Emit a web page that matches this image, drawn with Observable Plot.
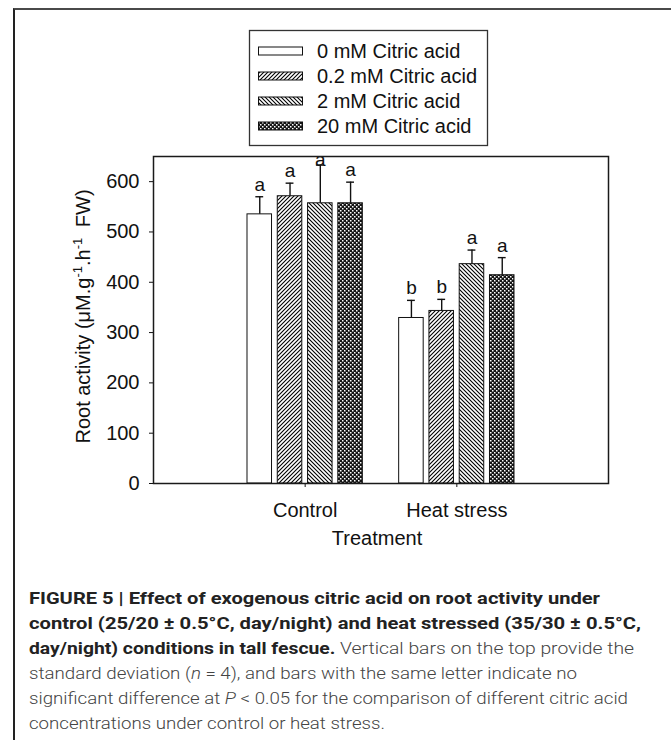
<!DOCTYPE html>
<html>
<head>
<meta charset="utf-8">
<script src="https://cdn.jsdelivr.net/npm/d3@7"></script>
<script src="https://cdn.jsdelivr.net/npm/@observablehq/plot@0.6"></script>
<style>
  html, body { margin: 0; padding: 0; background: #fff; }
  #page { position: relative; width: 671px; height: 740px; overflow: hidden; background: #fff; font-family: "Liberation Sans", Arial, sans-serif; }
  #border { position: absolute; left: 13px; top: 8px; width: 700px; height: 800px; border-top: 2px solid #4a4a4a; border-left: 2px solid #222; }
  #legend { position: absolute; left: 0; top: 0; }
  #chart { position: absolute; left: 0; top: 150px; }
  #caption { position: absolute; left: 29px; top: 586px; font-family: Roboto, "Liberation Sans", sans-serif; font-size: 17px; line-height: 25px; color: #444; }
  #caption .line { white-space: nowrap; transform-origin: 0 50%; width: max-content; }
  #caption b { font-weight: 700; color: #222; }
  #caption .reg { font-weight: 300; }
  #defs { position: absolute; width: 0; height: 0; }
</style>
</head>
<body>
<div id="page">
  <svg id="defs" width="0" height="0"></svg>
  <div id="border"></div>
  <svg id="legend" width="671" height="150"></svg>
  <div id="chart"></div>
  <div id="caption">
    <div class="line"><b>FIGURE 5 | Effect of exogenous citric acid on root activity under</b></div>
    <div class="line"><b>control (25/20 ± 0.5°C, day/night) and heat stressed (35/30 ± 0.5°C,</b></div>
    <div class="line"><b>day/night) conditions in tall fescue.</b><span class="reg"> Vertical bars on the top provide the</span></div>
    <div class="line"><span class="reg">standard deviation (<i>n</i> = 4), and bars with the same letter indicate no</span></div>
    <div class="line"><span class="reg">significant difference at <i>P</i> &lt; 0.05 for the comparison of different citric acid</span></div>
    <div class="line"><span class="reg">concentrations under control or heat stress.</span></div>
  </div>
</div>
<script>
// ---------------- data ----------------
const treatments = ["Control", "Heat stress"];
const concentrations = ["0 mM Citric acid", "0.2 mM Citric acid", "2 mM Citric acid", "20 mM Citric acid"];
const controlMeans = [535, 571, 557, 557];
const controlSD = [35, 26, 76, 42];
const controlLetters = ["a", "a", "a", "a"];
const heatMeans = [329, 343, 436, 414];
const heatSD = [35, 23, 28, 35];
const heatLetters = ["b", "b", "a", "a"];
const yTicks = [0, 100, 200, 300, 400, 500, 600];
const yLabel = ["Root activity (\u03bcM.g", "-1", ".h", "-1", " FW)"];
const xLabel = "Treatment";

// ---------------- patterns ----------------
const fills = ["white", "url(#pat-fwd)", "url(#pat-back)", "url(#pat-check)"];
const defs = d3.select("#defs").append("defs");
function linePattern(id, d) {
  const p = defs.append("pattern").attr("id", id).attr("patternUnits", "userSpaceOnUse")
    .attr("width", 4).attr("height", 4);
  p.append("rect").attr("width", 4).attr("height", 4).attr("fill", "white");
  p.append("path").attr("d", d).attr("stroke", "#000").attr("stroke-width", 1.1).attr("fill", "none");
}
linePattern("pat-fwd", "M-1,1 L1,-1 M0,4 L4,0 M3,5 L5,3");
linePattern("pat-back", "M-1,3 L1,5 M0,0 L4,4 M3,-1 L5,1");
{
  const p = defs.append("pattern").attr("id", "pat-check").attr("patternUnits", "userSpaceOnUse")
    .attr("width", 4).attr("height", 4);
  p.append("rect").attr("width", 4).attr("height", 4).attr("fill", "#151515");
  p.append("rect").attr("x", 0).attr("y", 0).attr("width", 1.5).attr("height", 1.5).attr("fill", "white");
  p.append("rect").attr("x", 2).attr("y", 2).attr("width", 1.5).attr("height", 1.5).attr("fill", "white");
}

// ---------------- rows ----------------
const rows = [];
treatments.forEach((t, ti) => {
  const means = ti === 0 ? controlMeans : heatMeans;
  const sds = ti === 0 ? controlSD : heatSD;
  const letters = ti === 0 ? controlLetters : heatLetters;
  concentrations.forEach((c, ci) => {
    rows.push({treatment: t, group: ti + 1, conc: c, mean: means[ci], sd: sds[ci], letter: letters[ci]});
  });
});

// bars dodged within each treatment group (one group = one unit on x)
const yMax = 650;
const inner = d3.scaleBand().domain(concentrations).range([-0.5, 0.5]).paddingInner(0.19).paddingOuter(0.6);
const bw = inner.bandwidth();
const capHalf = bw * 0.16;
const barLeft = d => d.group + inner(d.conc);
const barCenter = d => d.group + inner(d.conc) + bw / 2;
const errTop = d => d.mean + d.sd;
// keep letters inside the frame (as in the original figure)
const letterY = d => Math.min(errTop(d), yMax - 31);

const chart = Plot.plot({
  width: 671,
  height: 410,
  marginLeft: 153,
  marginRight: 63,
  marginTop: 6,
  marginBottom: 77,
  style: {fontFamily: "'Liberation Sans', Arial, sans-serif", fontSize: "20px", color: "#111", background: "transparent"},
  x: {domain: [0, treatments.length + 1], ticks: treatments.map((t, i) => i + 1), tickFormat: v => treatments[v - 1], tickSize: 4, tickPadding: 15, label: null},
  y: {domain: [0, yMax], ticks: yTicks, tickSize: 4, tickPadding: 10, label: null},
  color: {domain: concentrations, range: fills},
  marks: [
    Plot.rectY(rows, {x1: barLeft, x2: d => barLeft(d) + bw, y1: 0, y2: "mean", fill: "conc", stroke: "#111", strokeWidth: 1}),
    Plot.ruleX(rows, {x: barCenter, y1: "mean", y2: errTop, stroke: "#111", strokeWidth: 1.4}),
    Plot.ruleY(rows, {y: errTop, x1: d => barCenter(d) - capHalf, x2: d => barCenter(d) + capHalf, stroke: "#111", strokeWidth: 1.4}),
    Plot.text(rows, {x: barCenter, y: letterY, text: "letter", dy: -12, fontSize: 19, fill: "#111"}),
    Plot.frame({stroke: "#1a1a1a", strokeWidth: 1.5})
  ]
});
document.getElementById("chart").appendChild(chart);

// axis titles
const svg = d3.select(chart);
const yl = svg.append("text")
  .attr("transform", "translate(89.5,166.5) rotate(-90)")
  .attr("text-anchor", "middle")
  .attr("font-size", 20)
  .attr("fill", "#111");
yl.append("tspan").text(yLabel[0]);
yl.append("tspan").attr("dy", -8).attr("font-size", 13).text(yLabel[1]);
yl.append("tspan").attr("dy", 8).text(yLabel[2]);
yl.append("tspan").attr("dy", -8).attr("font-size", 13).text(yLabel[3]);
yl.append("tspan").attr("dy", 8).attr("dx", 5).text(yLabel[4]);
svg.append("text")
  .attr("x", 377).attr("y", 395)
  .attr("text-anchor", "middle")
  .attr("font-size", 20)
  .attr("fill", "#111")
  .text(xLabel);

// ---------------- legend ----------------
const lg = d3.select("#legend");
lg.append("rect").attr("x", 249.5).attr("y", 30.5).attr("width", 238).attr("height", 115)
  .attr("fill", "white").attr("stroke", "#333").attr("stroke-width", 1.3);
const rowY = [51, 76, 101, 126];
concentrations.forEach((c, i) => {
  lg.append("rect").attr("x", 258.5).attr("y", rowY[i] - 4).attr("width", 44).attr("height", 8)
    .attr("fill", fills[i]).attr("stroke", "#111").attr("stroke-width", 1);
  lg.append("text").attr("x", 317).attr("y", rowY[i] + 7.2)
    .attr("font-size", 20).attr("fill", "#111")
    .attr("font-family", "'Liberation Sans', Arial, sans-serif")
    .text(c);
});

// ---------------- caption line fitting ----------------
const lineRight = [600, 641, 634, 577, 628, 385];
document.querySelectorAll("#caption .line").forEach((el, i) => {
  const w = el.getBoundingClientRect().width;
  const target = lineRight[i] - 29;
  el.style.transform = `scaleX(${target / w})`;
});
</script>
</body>
</html>
